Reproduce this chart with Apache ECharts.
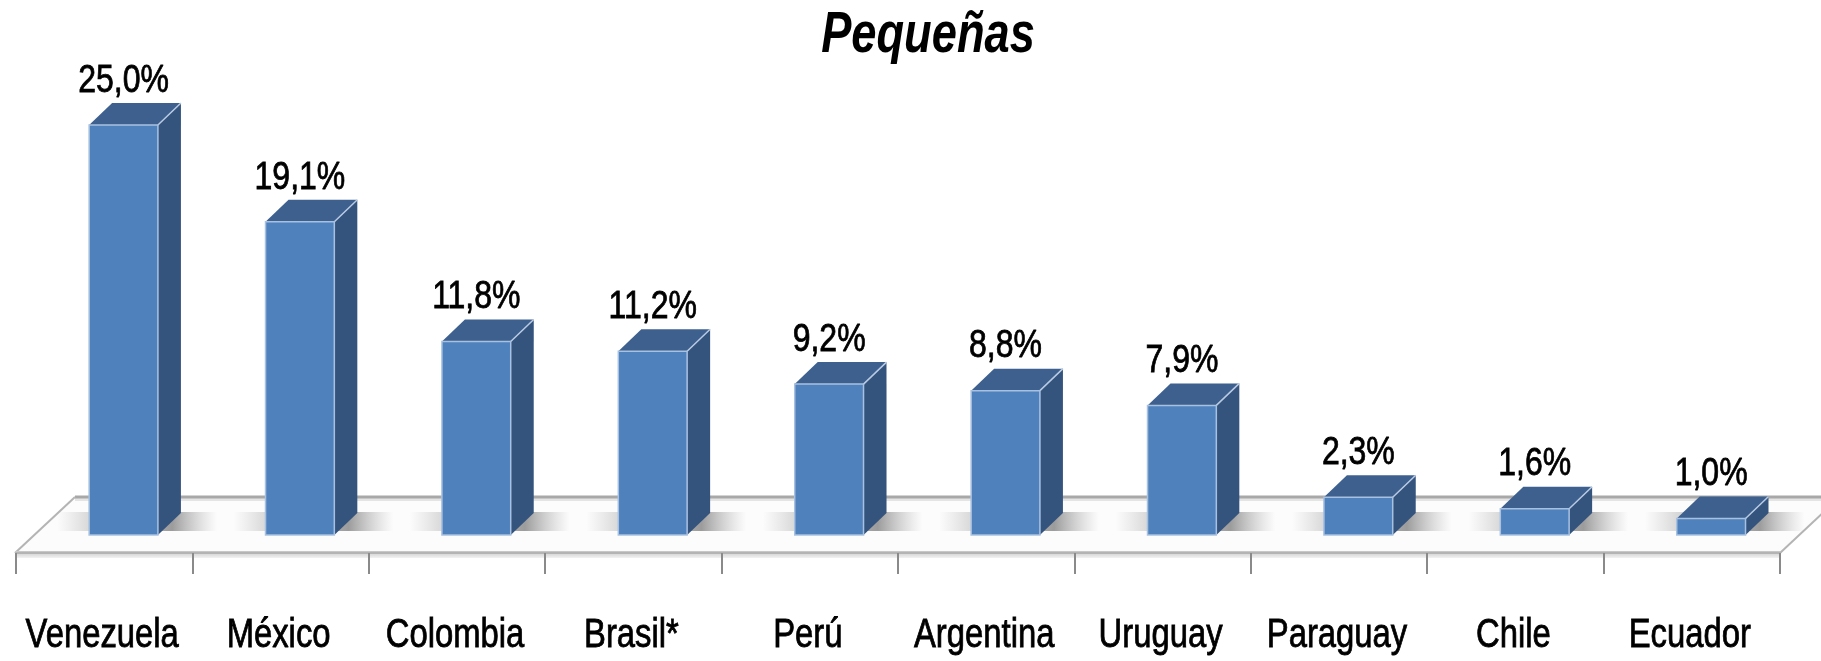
<!DOCTYPE html>
<html>
<head>
<meta charset="utf-8">
<script src="https://cdn.jsdelivr.net/npm/echarts@6/dist/echarts.min.js"></script>
<style>
html,body{margin:0;padding:0;background:#fff;}
#chart{width:1821px;height:661px;}
</style>
</head>
<body>
<div id="chart"></div>
<script>
const titleText = 'Pequeñas';
const categories = ['Venezuela', 'México', 'Colombia', 'Brasil*', 'Perú', 'Argentina', 'Uruguay', 'Paraguay', 'Chile', 'Ecuador'];
const values = [25.0, 19.1, 11.8, 11.2, 9.2, 8.8, 7.9, 2.3, 1.6, 1.0];

const FONT = '"Liberation Sans", Arial, sans-serif';
const NARROW = 0.82;

function fmt(v) { return v.toFixed(1).replace('.', ',') + '%'; }

const chart = echarts.init(document.getElementById('chart'));

const FLOOR_D = 56, FLOOR_DX = 60;
const DEPTH_X = 23, DEPTH_Y = 22;

function renderFloor(params, api) {
  const cs = params.coordSys;
  const L = cs.x - 1, R = cs.x + cs.width, F = cs.y + cs.height;
  const B = F - FLOOR_D;
  return {
    type: 'group',
    children: [
      { type: 'polygon', shape: { points: [[L, F], [R, F], [R + FLOOR_DX, B], [L + FLOOR_DX, B]] },
        style: { fill: '#fcfcfc' } },
      { type: 'line', shape: { x1: L + FLOOR_DX, y1: B + 2.5, x2: R + FLOOR_DX, y2: B + 2.5 },
        style: { stroke: '#e4e4e4', lineWidth: 3 } },
      { type: 'line', shape: { x1: L + FLOOR_DX, y1: B, x2: R + FLOOR_DX, y2: B },
        style: { stroke: '#a8a8a8', lineWidth: 3 } },
      { type: 'line', shape: { x1: L, y1: F, x2: L + FLOOR_DX, y2: B },
        style: { stroke: '#b4b4b4', lineWidth: 2 } },
      { type: 'line', shape: { x1: R, y1: F, x2: R + FLOOR_DX, y2: B },
        style: { stroke: '#b4b4b4', lineWidth: 2 } },
      { type: 'rect', shape: { x: L, y: F - 2, width: R - L, height: 7 },
        style: { fill: new echarts.graphic.LinearGradient(0, 0, 0, 1, [
          { offset: 0, color: '#c4c4c4' }, { offset: 0.5, color: '#dcdcdc' }, { offset: 1, color: '#f2f2f2' }]) } }
    ]
  };
}

function renderBar(params, api) {
  const idx = api.value(0), v = api.value(1);
  const cs = params.coordSys;
  const base = api.coord([idx, 0]);
  const top = api.coord([idx, v]);
  const F = cs.y + cs.height;
  const shift = (F - base[1]) * FLOOR_DX / FLOOR_D;
  const bw = api.size([1, 0])[0] * 0.39;
  const x0 = base[0] + shift - bw / 2, x1 = x0 + bw;
  const yT = top[1], yB = base[1];
  const dx = DEPTH_X, dy = DEPTH_Y;
  return {
    type: 'group',
    children: [
      { type: 'rect', shape: { x: x0 - 32, y: yB - 23, width: bw + dx + 68, height: 19 },
        style: { fill: new echarts.graphic.LinearGradient(0, 0, 1, 0, [
          { offset: 0, color: 'rgba(160,160,160,0)' },
          { offset: 0.2, color: 'rgba(150,150,150,0.35)' },
          { offset: 0.72, color: 'rgba(115,115,115,0.7)' },
          { offset: 1, color: 'rgba(160,160,160,0)' }]) } },
      { type: 'polygon', shape: { points: [[x1, yT], [x1 + dx, yT - dy], [x1 + dx, yB - dy], [x1, yB]] },
        style: { fill: '#34547e' } },
      { type: 'polygon', shape: { points: [[x0, yT], [x0 + dx, yT - dy], [x1 + dx, yT - dy], [x1, yT]] },
        style: { fill: '#3d608e' } },
      { type: 'line', shape: { x1: x1, y1: yT, x2: x1 + dx, y2: yT - dy },
        style: { stroke: '#b9cbe3', lineWidth: 1.5 } },
      { type: 'rect', shape: { x: x0, y: yT, width: bw, height: yB - yT },
        style: { fill: '#4f81bd', stroke: '#a9c1e0', lineWidth: 1.5 } },
      { type: 'text', x: (x0 + x1) / 2, y: yT - 44, scaleX: NARROW,
        style: { text: fmt(v), fill: '#000', font: '39px ' + FONT, align: 'center', verticalAlign: 'middle',
          stroke: '#000', lineWidth: 0.8 } },
      { type: 'text', x: base[0] - 2, y: 636, scaleX: NARROW,
        style: { text: categories[idx], fill: '#000', font: '40px ' + FONT, align: 'center', verticalAlign: 'middle',
          stroke: '#000', lineWidth: 0.8 } }
    ]
  };
}

chart.setOption({
  animation: false,
  backgroundColor: '#fff',
  graphic: [{
    type: 'text', x: 928, y: 36, scaleX: 0.78, z: 10,
    style: { text: titleText, fill: '#000', font: 'italic bold 58px ' + FONT, align: 'center', verticalAlign: 'middle' }
  }],
  grid: { left: 16, right: 41, top: 125, bottom: 108 },
  xAxis: {
    type: 'category',
    data: categories,
    boundaryGap: true,
    z: 5,
    axisLine: { show: true, onZero: false, lineStyle: { color: '#b4b4b4', width: 2 } },
    axisTick: { show: true, length: 21, interval: 0, lineStyle: { color: '#8a8a8a', width: 2 } },
    axisLabel: { show: false },
    splitLine: { show: false }
  },
  yAxis: { type: 'value', min: -1.1, max: 25, show: false },
  series: [
    { type: 'custom', z: 1, clip: false, silent: true, renderItem: renderFloor, data: [[0, 0]] },
    { type: 'custom', z: 2, clip: false, renderItem: renderBar,
      encode: { x: 0, y: 1 },
      data: values.map((v, i) => [i, v]) }
  ]
});
</script>
</body>
</html>
